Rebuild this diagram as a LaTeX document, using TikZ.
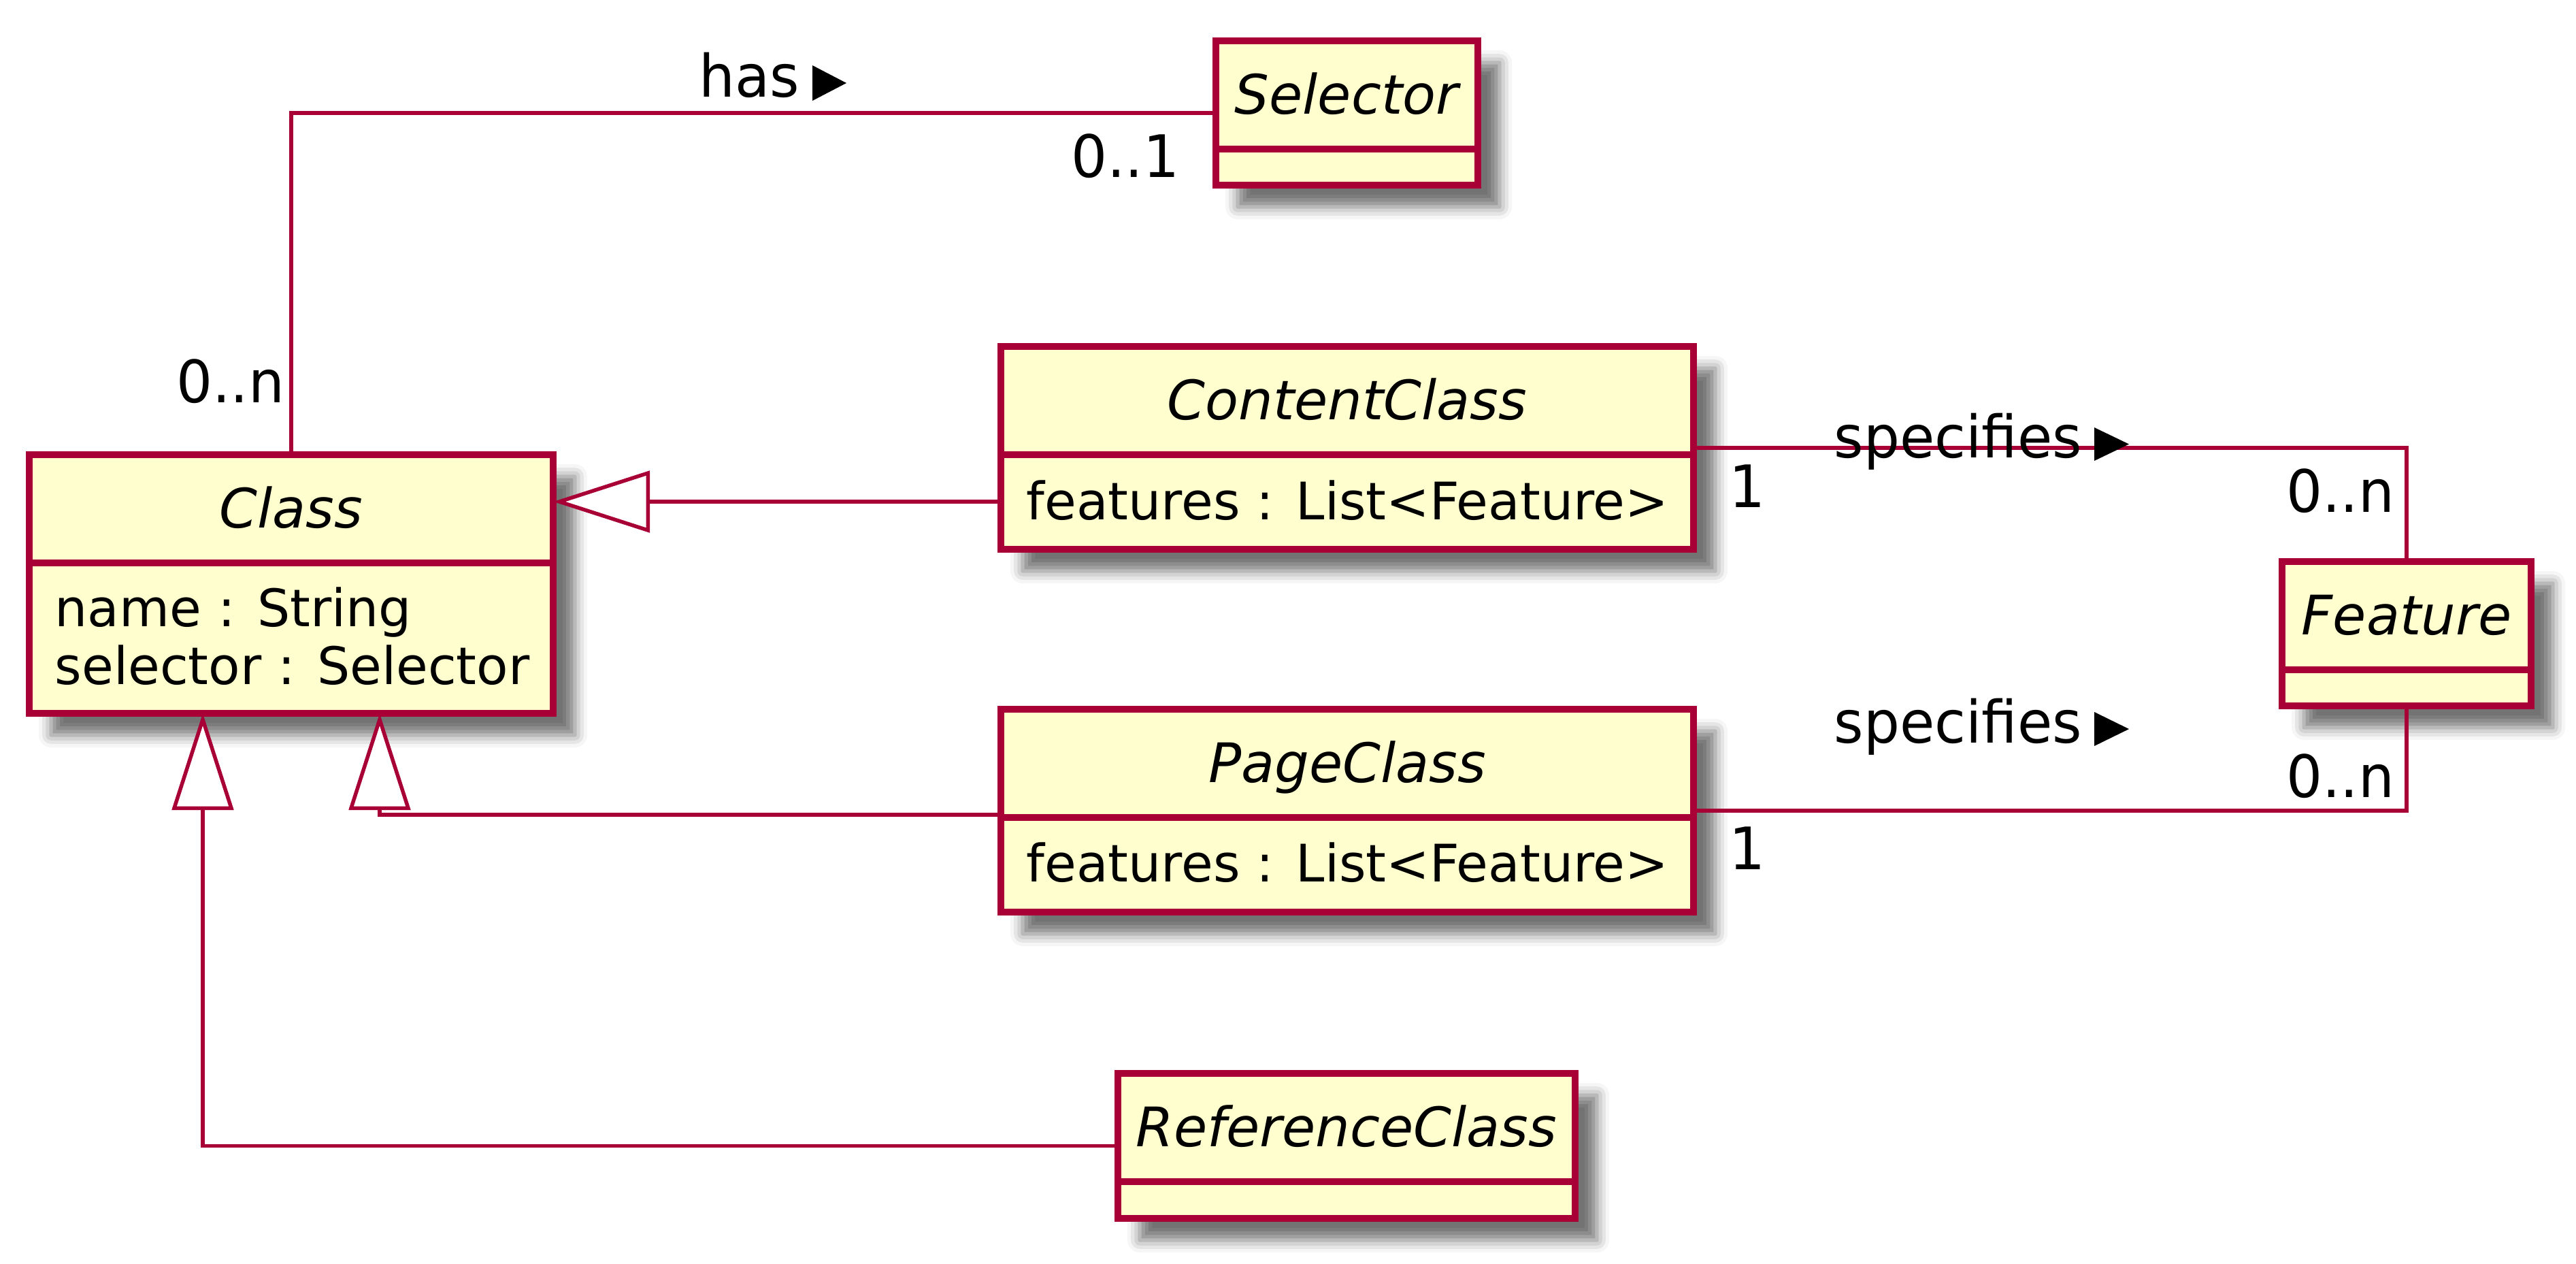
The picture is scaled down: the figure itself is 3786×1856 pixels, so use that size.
\documentclass[tikz,border=0pt]{standalone}
\usepackage{fontspec}
\setmainfont{DejaVu Sans}
\newfontfamily\lblfont[FakeStretch=0.97]{DejaVu Sans}
\usetikzlibrary{arrows.meta,shadows.blur}
\definecolor{umlborder}{HTML}{A80036}
\definecolor{umlfill}{HTML}{FEFECE}
\begin{document}
\begin{tikzpicture}[x=0.25pt,y=-0.25pt,
  classbox/.style={draw=umlborder, fill=umlfill, line width=2.5pt, rectangle, inner sep=0pt, outer sep=0pt, anchor=north west,
    blur shadow={shadow xshift=8pt, shadow yshift=-8pt, shadow blur radius=4.5pt, shadow opacity=55}},
  divline/.style={draw=umlborder, line width=2.5pt},
  cname/.style={font=\fontsize{20pt}{24pt}\selectfont\itshape, inner sep=0pt, anchor=base},
  cattr/.style={font=\fontsize{19pt}{22pt}\selectfont, inner sep=0pt, anchor=base west},
  lbl/.style={font=\lblfont\fontsize{21.5pt}{26pt}\selectfont, inner sep=0pt},
  assoc/.style={draw=umlborder, line width=1.375pt},
  gen/.style={draw=umlborder, line width=1.375pt, -{Triangle[length=35.5pt, width=22.5pt, fill=white]}},
  dirmark/.style={fill=black}
]
\useasboundingbox (0,0) rectangle (3786,1856);

% class boxes
\node[classbox, minimum width=96.25pt, minimum height=53pt] (sel) at (1787,60) {};
\node[classbox, minimum width=192.5pt, minimum height=95pt] (cls) at (43,668) {};
\node[classbox, minimum width=254.5pt, minimum height=74.5pt] (cc) at (1471,509) {};
\node[classbox, minimum width=254.5pt, minimum height=74.5pt] (pc) at (1471,1042) {};
\node[classbox, minimum width=168pt, minimum height=53.25pt] (rc) at (1643,1577) {};
\node[classbox, minimum width=91.5pt, minimum height=53pt] (feat) at (3354,825) {};

% compartment dividers
\foreach \b in {sel,cls,cc,pc,rc,feat}
  \draw[divline] ([yshift=-39.75pt]\b.north west) -- ([yshift=-39.75pt]\b.north east);

% class names
\node[cname] (selname) at (1979,167) {Selector};
\node[cname] (clsname) at (428,775) {Class};
\node[cname] (ccname) at (1980,616) {ContentClass};
\node[cname] (pcname) at (1980,1149) {PageClass};
\node[cname] (rcname) at (1979,1684) {ReferenceClass};
\node[cname] (featname) at (3537,932) {Feature};

% attributes
\node[cattr] (clsattr1) at (80,920) {name : String};
\node[cattr] (clsattr2) at (80,1005) {selector : Selector};
\node[cattr] (ccattr) at (1508,763) {features : List<Feature>};
\node[cattr] (pcattr) at (1508,1295) {features : List<Feature>};

% helper coordinates
\coordinate (ccgen) at (0,737);
\coordinate (pcgen) at (0,1197);
\coordinate (pcx) at (558,0);
\coordinate (rcx) at (298,0);

% connectors
\draw[assoc] (cls.north) |- (sel.west);
\draw[gen] (cc.west |- ccgen) -- (cls.east |- ccgen);
\draw[gen] (pc.west |- pcgen) -| (pcx |- cls.south);
\draw[gen] (rc.west) -| (rcx |- cls.south);
\draw[assoc] (cc.east) -| (feat.north);
\draw[assoc] (pc.east) -| (feat.south);

% labels
\node[lbl, anchor=base west] (haslbl) at (1027,142) {has};
\fill[dirmark] (1194,96) -- (1244,122) -- (1194,148) -- cycle;
\node[lbl, anchor=base east] (selmult) at (1734,260) {0..1};
\node[lbl, anchor=base east] (clsmult) at (419,591) {0..n};

\node[lbl, anchor=base west] (ccmult) at (2541,745) {1};
\node[lbl, anchor=base west] (spec1) at (2695,672) {specifies};
\fill[dirmark] (3078,628) -- (3129,652.5) -- (3078,677) -- cycle;
\node[lbl, anchor=base east] (featmult1) at (3520,752) {0..n};

\node[lbl, anchor=base west] (pcmult) at (2541,1277) {1};
\node[lbl, anchor=base west] (spec2) at (2695,1091) {specifies};
\fill[dirmark] (3078,1046) -- (3129,1071) -- (3078,1096) -- cycle;
\node[lbl, anchor=base east] (featmult2) at (3520,1171) {0..n};
\end{tikzpicture}
\end{document}
